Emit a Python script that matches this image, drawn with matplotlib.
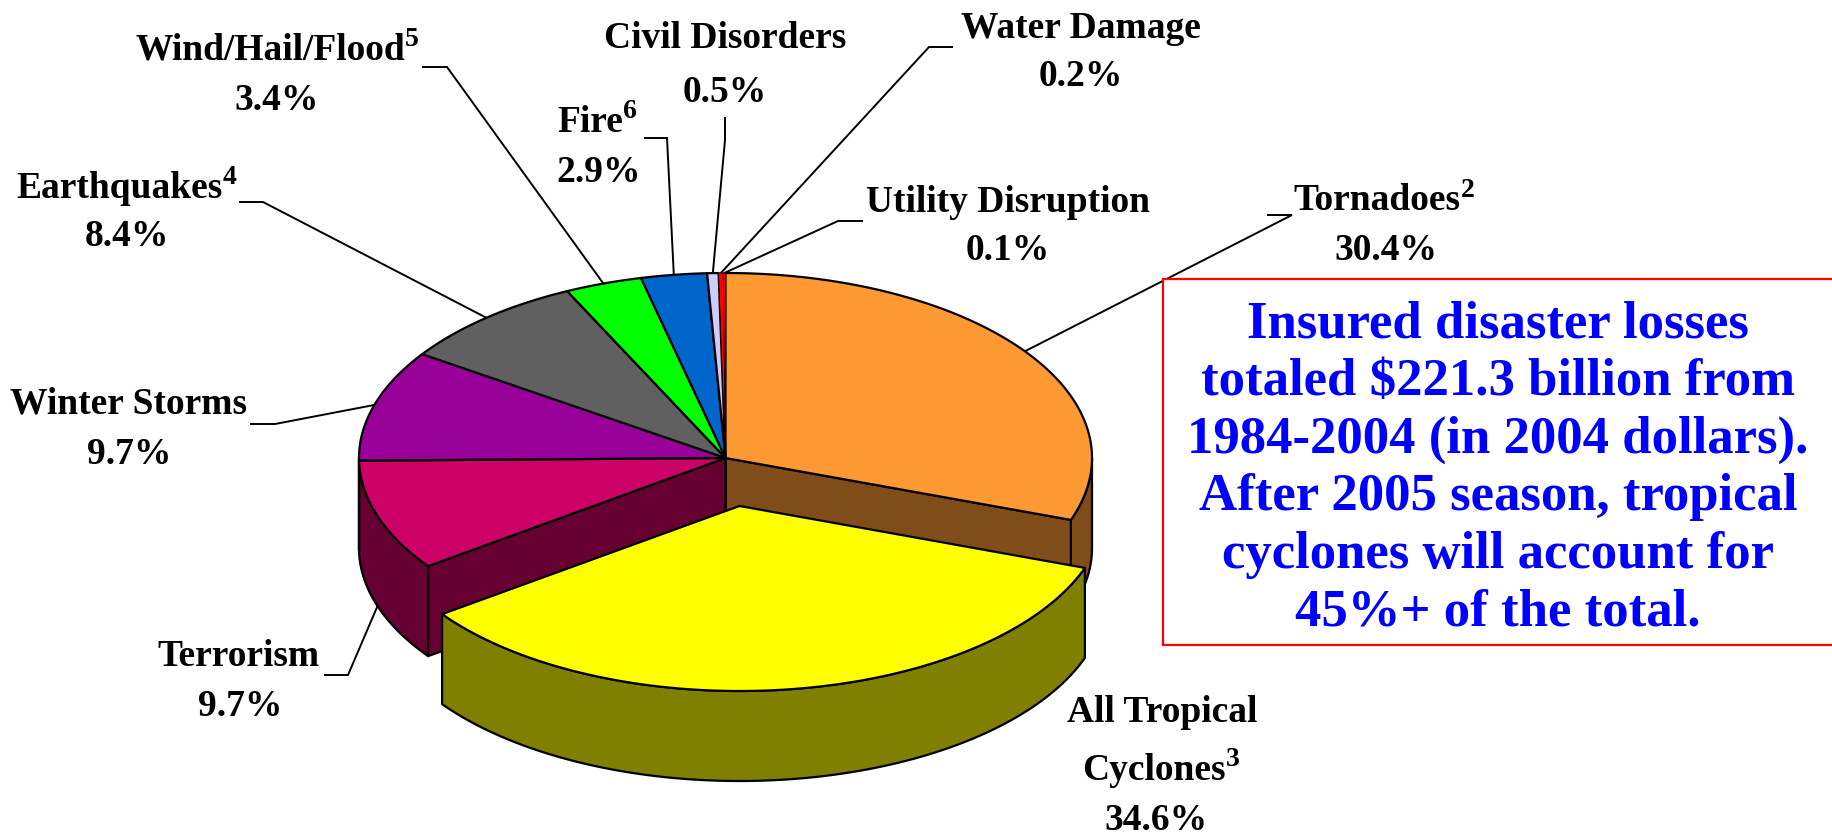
import numpy as np
import matplotlib
matplotlib.use("Agg")
import matplotlib.pyplot as plt
from matplotlib.patches import Polygon, Rectangle

# Data
categories = ["Tornadoes", "All Tropical Cyclones", "Terrorism", "Winter Storms", "Earthquakes",
              "Wind/Hail/Flood", "Fire", "Civil Disorders", "Water Damage", "Utility Disruption"]
values = [30.4, 34.6, 9.7, 9.7, 8.4, 3.4, 2.9, 0.5, 0.2, 0.1]
top_colors = ["#FF9933", "#FFFF00", "#CC0066", "#990099", "#606060",
              "#00FF00", "#0066CC", "#CCCCFF", "#FF0000", "#FF0000"]
side_colors = ["#804D1A", "#808000", "#660033", "#4D004D", "#303030",
               "#008000", "#003366", "#666680", "#800000", "#800000"]
note_lines = ["Insured disaster losses", "totaled $221.3 billion from",
              "1984-2004 (in 2004 dollars).", "After 2005 season, tropical",
              "cyclones will account for", "45%+ of the total."]

W, H = 1833, 835
CX, CY, RX, RY, DEPTH = 725.5, 458.0, 366.5, 185.0, 90.0
EXPLODE = (14.0, 48.0)

fig = plt.figure(figsize=(W / 100, H / 100), dpi=100, facecolor="white")
ax = fig.add_axes([0, 0, 1, 1])
ax.set_xlim(0, W)
ax.set_ylim(H, 0)
ax.axis("off")

FONT = "Liberation Serif"
LW = 1.6


def rim(deg, dx=0.0, dy=0.0):
    t = np.radians(deg)
    return np.column_stack([CX + dx + RX * np.sin(t), CY + dy - RY * np.cos(t)])


def arc(a, b, dx=0.0, dy=0.0):
    n = max(2, int(abs(b - a) * 2) + 2)
    return rim(np.linspace(a, b, n), dx, dy)


def poly(pts, color, z, lw=LW):
    ax.add_patch(Polygon(pts, closed=True, facecolor=color, edgecolor="black",
                         linewidth=lw, joinstyle="round", zorder=z))


def top_face(a, b, color, z, dx=0.0, dy=0.0, lw=LW):
    poly(np.vstack([[CX + dx, CY + dy], arc(a, b, dx, dy)]), color, z, lw)


def outer_wall(a, b, color, z, dx=0.0, dy=0.0):
    a, b = max(a, 90), min(b, 270)
    if b <= a:
        return
    upper = arc(a, b, dx, dy)
    lower = upper[::-1] + [0, DEPTH]
    poly(np.vstack([upper, lower]), color, z)


def radial_wall(angle, color, z):
    p = rim(angle)[0]
    poly([[CX, CY], p, p + [0, DEPTH], [CX, CY + DEPTH]], color, z)


# Slice boundaries come from the values
edges = np.concatenate([[0], np.cumsum(values)]) / np.sum(values) * 360.0
mids = (edges[:-1] + edges[1:]) / 2
EX = 1  # exploded slice

for i in range(len(values)):
    if i != EX:
        outer_wall(edges[i], edges[i + 1], side_colors[i], 2)
radial_wall(edges[EX], side_colors[0], 3)
radial_wall(edges[EX + 1], side_colors[2], 3)
for i in range(len(values)):
    if i != EX:
        top_face(edges[i], edges[i + 1], top_colors[i], 4, lw=0.5 if values[i] < 0.3 else LW)
outer_wall(edges[EX], edges[EX + 1], side_colors[EX], 5, *EXPLODE)
top_face(edges[EX], edges[EX + 1], top_colors[EX], 6, *EXPLODE)

# Leader lines: elbow stub, then down to the slice's rim
leaders = {
    0: [(1268, 215), (1292, 215)],
    2: [(325, 675), (348, 675)],
    3: [(251, 424), (275, 424)],
    4: [(240, 202), (263, 202)],
    5: [(423, 67), (447, 67)],
    6: [(645, 138), (667, 138)],
    7: [(725, 118), (725, 140)],
    8: [(952, 47), (929, 47)],
    9: [(862, 221), (838, 221)],
}
for i, stub in leaders.items():
    end = rim(mids[i])[0]
    if i == 2:
        end = end + [0, DEPTH]
    xs = [stub[0][0], stub[1][0], end[0]]
    ys = [stub[0][1], stub[1][1], end[1]]
    ax.plot(xs, ys, color="black", lw=1.4, zorder=1, solid_joinstyle="miter")

# Labels
FS = 27
SUP = 20
style = dict(ha="center", va="center", fontsize=FS, family=FONT, weight="bold", zorder=8)


def label(text, x, y, sup=None):
    t = ax.text(x, y, text, **style)
    if sup:
        ax.annotate(sup, xy=(1, 1), xycoords=t, xytext=(0, -5), textcoords="offset points",
                    ha="left", va="center", fontsize=SUP, family=FONT, weight="bold", zorder=8)


label("Tornadoes", 1377, 201, "2")
label("30.4%", 1386, 250)
label("Terrorism", 239, 656)
label("9.7%", 240, 707)
label("Winter Storms", 129, 404)
label("9.7%", 129, 454)
label("Earthquakes", 120, 188, "4")
label("8.4%", 127, 237)
label("Wind/Hail/Flood", 270, 50, "5")
label("3.4%", 277, 101)
label("Fire", 590, 122, "6")
label("2.9%", 599, 173)
label("Civil Disorders", 725, 39)
label("0.5%", 725, 93)
label("Water Damage", 1081, 29)
label("0.2%", 1081, 76)
label("Utility Disruption", 1008, 202)
label("0.1%", 1008, 251)
label("All Tropical", 1162, 713)
label("Cyclones", 1154, 770, "3")
label("34.6%", 1156, 820)

# Note box
ax.add_patch(Rectangle((1163, 279), W - 1163 + 5, 366, facecolor="white", edgecolor="#FF0000",
                       linewidth=1.6, zorder=7))
for k, line in enumerate(note_lines):
    ax.text(1498, 325 + k * 57.4, line, ha="center", va="center", color="#0000FF",
            fontsize=38, family=FONT, weight="bold", zorder=8)

fig.savefig("out.png", dpi=100, facecolor="white")
